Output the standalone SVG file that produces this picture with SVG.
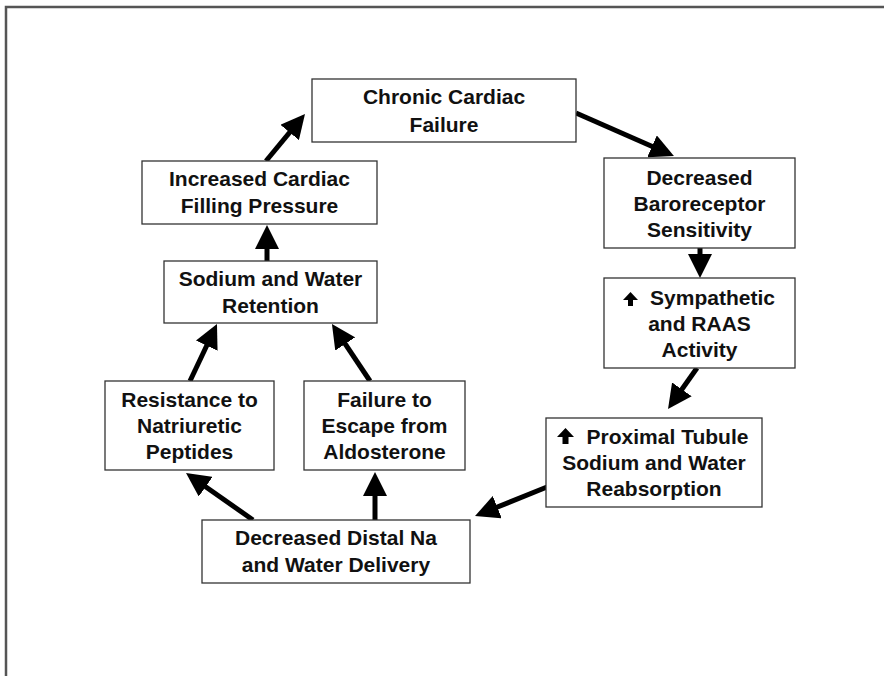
<svg xmlns="http://www.w3.org/2000/svg" width="884" height="676" viewBox="0 0 884 676">
<style>
.box{fill:#fff;stroke:#333;stroke-width:1.3}
.t{font-family:"Liberation Sans",Arial,sans-serif;font-weight:bold;font-size:21px;fill:#111;text-anchor:middle}
.c{stroke:#000;stroke-width:5;fill:none}
.up{fill:#000}
</style>
<defs>
<marker id="ah" markerUnits="userSpaceOnUse" markerWidth="24" markerHeight="24" refX="14" refY="12" orient="auto" viewBox="0 0 24 24">
<path d="M0,0 L24,12 L0,24 z" fill="#000"/>
</marker>
</defs>
<rect x="0" y="0" width="884" height="676" fill="#fff"/>
<path d="M6,676 V7 H884" fill="none" stroke="#555" stroke-width="2.5"/>

<g id="connectors">
<line class="c" x1="576" y1="113" x2="664.8" y2="152" marker-end="url(#ah)"/>
<line class="c" x1="700" y1="248" x2="700" y2="268" marker-end="url(#ah)"/>
<line class="c" x1="697" y1="368" x2="673.8" y2="400.8" marker-end="url(#ah)"/>
<line class="c" x1="547" y1="487" x2="484.3" y2="512.3" marker-end="url(#ah)"/>
<line class="c" x1="253" y1="520" x2="194.2" y2="478.7" marker-end="url(#ah)"/>
<line class="c" x1="375" y1="520" x2="375" y2="482" marker-end="url(#ah)"/>
<line class="c" x1="190" y1="381" x2="212.7" y2="333" marker-end="url(#ah)"/>
<line class="c" x1="370" y1="381" x2="337.5" y2="332.3" marker-end="url(#ah)"/>
<line class="c" x1="267" y1="261" x2="267" y2="235" marker-end="url(#ah)"/>
<line class="c" x1="266" y1="161" x2="298.6" y2="121.7" marker-end="url(#ah)"/>
</g>

<g id="chronic">
<rect class="box" x="312" y="79" width="264" height="63"/>
<text class="t" x="444" y="104">Chronic Cardiac</text>
<text class="t" x="444" y="132">Failure</text>
</g>

<g id="baroreceptor">
<rect class="box" x="604" y="158" width="191" height="90"/>
<text class="t" x="699.5" y="185">Decreased</text>
<text class="t" x="699.5" y="211">Baroreceptor</text>
<text class="t" x="699.5" y="237">Sensitivity</text>
</g>

<g id="sympathetic">
<rect class="box" x="604" y="278" width="191" height="90"/>
<path class="up" d="M630.5,292 L638,300 L633,300 L633,306 L628,306 L628,300 L623,300 z"/>
<text class="t" x="712.5" y="305">Sympathetic</text>
<text class="t" x="699.5" y="331">and RAAS</text>
<text class="t" x="699.5" y="357">Activity</text>
</g>

<g id="proximal">
<rect class="box" x="546" y="418" width="216" height="89"/>
<path class="up" d="M565.5,428 L574,437 L568.5,437 L568.5,444 L562.5,444 L562.5,437 L557,437 z"/>
<text class="t" x="667.5" y="444">Proximal Tubule</text>
<text class="t" x="654" y="470">Sodium and Water</text>
<text class="t" x="654" y="496">Reabsorption</text>
</g>

<g id="distal">
<rect class="box" x="202" y="520" width="268" height="63"/>
<text class="t" x="336" y="545">Decreased Distal Na</text>
<text class="t" x="336" y="572">and Water Delivery</text>
</g>

<g id="aldosterone">
<rect class="box" x="304" y="381" width="161" height="89"/>
<text class="t" x="384.5" y="407">Failure to</text>
<text class="t" x="384.5" y="433">Escape from</text>
<text class="t" x="384.5" y="459">Aldosterone</text>
</g>

<g id="natriuretic">
<rect class="box" x="105" y="381" width="169" height="89"/>
<text class="t" x="189.5" y="407">Resistance to</text>
<text class="t" x="189.5" y="433">Natriuretic</text>
<text class="t" x="189.5" y="459">Peptides</text>
</g>

<g id="retention">
<rect class="box" x="164" y="261" width="213" height="62"/>
<text class="t" x="270.5" y="286">Sodium and Water</text>
<text class="t" x="270.5" y="313">Retention</text>
</g>

<g id="filling">
<rect class="box" x="142" y="161" width="235" height="63"/>
<text class="t" x="259.5" y="186">Increased Cardiac</text>
<text class="t" x="259.5" y="213">Filling Pressure</text>
</g>
</svg>
